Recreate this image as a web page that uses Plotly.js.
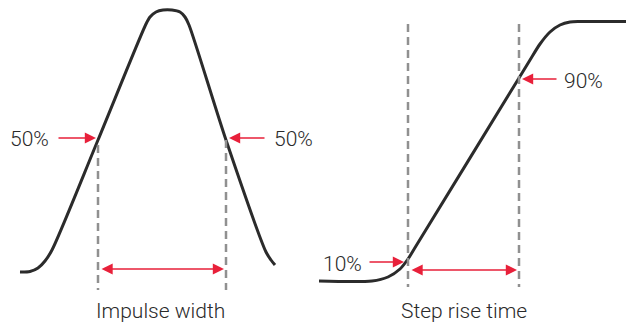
<!DOCTYPE html>
<html>
<head>
<meta charset="utf-8">
<script src="https://cdn.plot.ly/plotly-3.0.1.min.js"></script>
<style>html,body{margin:0;padding:0;background:#fff;}#chart{width:626px;height:324px;}</style>
</head>
<body>
<div id="chart"></div>
<script>
// Impulse waveform (left diagram)
const impulseX = [20, 30, 38, 45, 52, 98, 146, 150, 156, 163, 172, 180, 185, 189, 226, 266, 271, 275];
const impulseY = [272, 271.5, 268, 261, 250, 140, 24, 17, 12, 10, 10, 12, 17, 25, 140, 252, 260, 265];
// Step waveform (right diagram)
const stepX = [319, 372, 388, 400, 408, 416, 519, 530, 540, 550, 560, 570, 580, 626];
const stepY = [281, 281, 277, 269, 259, 246, 78, 60, 44, 32, 25, 22, 21.5, 21.5];
// Dashed marker lines: x position, top, bottom
const markerX = [98, 226, 408, 519];
const markerTop = [145, 140, 24, 24];
const markerBottom = [290, 290, 287, 287];
// Single arrows: tail -> head
const arrowTailX = [57, 266, 368, 558];
const arrowHeadX = [96, 229, 404, 522];
const arrowY = [138, 138, 262, 79];
// Double arrows (measured spans)
const spanStart = [100, 410];
const spanEnd = [224, 517];
const spanY = [269, 270];
// Labels
const labelText = ["50%", "50%", "10%", "90%", "Impulse width", "Step rise time"];
const labelX = [29.5, 293, 342.7, 583.5, 160.5, 463.5];
const labelY = [139, 139, 264, 81, 311, 311];

const lineColor = '#2b2b2b';
const dashColor = '#909090';
const red = '#e8203a';

const traces = [
  {x: impulseX, y: impulseY, mode: 'lines', line: {color: lineColor, width: 3, shape: 'spline', smoothing: 0.8}, hoverinfo: 'skip'},
  {x: stepX, y: stepY, mode: 'lines', line: {color: lineColor, width: 3, shape: 'spline', smoothing: 0.8}, hoverinfo: 'skip'}
];
markerX.forEach((mx, i) => {
  traces.push({x: [mx, mx], y: [markerTop[i], markerBottom[i]], mode: 'lines',
    line: {color: dashColor, width: 2.5, dash: '8px,5px'}, hoverinfo: 'skip'});
});

const annotations = [];
arrowTailX.forEach((tx, i) => {
  annotations.push({x: arrowHeadX[i], y: arrowY[i], ax: tx, ay: arrowY[i], xref: 'x', yref: 'y', axref: 'x', ayref: 'y',
    text: '', showarrow: true, arrowhead: 2, arrowsize: 1.4, arrowwidth: 1.6, arrowcolor: red, standoff: 0});
});
spanStart.forEach((sx, i) => {
  annotations.push({x: spanEnd[i], y: spanY[i], ax: sx, ay: spanY[i], xref: 'x', yref: 'y', axref: 'x', ayref: 'y',
    text: '', showarrow: true, arrowhead: 2, startarrowhead: 2, arrowside: 'end+start', arrowsize: 1.4, startarrowsize: 1.4,
    arrowwidth: 1.6, arrowcolor: red, standoff: 0, startstandoff: 0});
});
labelText.forEach((t, i) => {
  annotations.push({x: labelX[i], y: labelY[i], xref: 'x', yref: 'y', text: t, showarrow: false,
    xanchor: 'center', yanchor: 'middle', font: {family: 'Roboto, Liberation Sans, Arial, sans-serif', weight: 300, size: 21, color: '#2a2a2a'}});
});

const layout = {
  width: 626, height: 324,
  margin: {l: 0, r: 0, t: 0, b: 0},
  paper_bgcolor: '#ffffff', plot_bgcolor: '#ffffff',
  showlegend: false,
  xaxis: {range: [0, 626], visible: false, fixedrange: true},
  yaxis: {range: [324, 0], visible: false, fixedrange: true},
  annotations: annotations
};
Plotly.newPlot('chart', traces, layout, {displayModeBar: false, staticPlot: true});
</script>
</body>
</html>
